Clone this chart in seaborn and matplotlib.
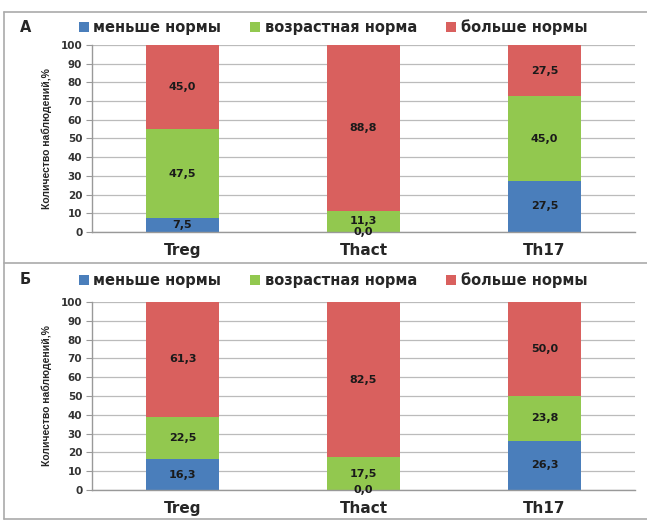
import matplotlib
matplotlib.use("Agg")
import matplotlib.pyplot as plt
from matplotlib.patches import Patch
from matplotlib.lines import Line2D
import pandas as pd
import seaborn as sns

sns.set_style("white")
plt.rcParams["font.family"] = ["DejaVu Sans"]

# Data
cells = ["Treg", "Thact", "Th17"]
groups = ["меньше нормы", "возрастная норма", "больше нормы"]
panel_a_below = [7.5, 0.0, 27.5]
panel_a_norm = [47.5, 11.3, 45.0]
panel_a_above = [45.0, 88.8, 27.5]
panel_b_below = [16.3, 0.0, 26.3]
panel_b_norm = [22.5, 17.5, 23.8]
panel_b_above = [61.3, 82.5, 50.0]
panel_letters = ["А", "Б"]
y_label = "Количество наблюдений,%"
y_ticks = list(range(0, 101, 10))

colors = ["#4A7EBB", "#92C84F", "#D9605E"]

W, H = 647, 521
fig = plt.figure(figsize=(W / 100, H / 100), dpi=100)


def px_axes(left, top, right, bottom):
    return fig.add_axes([left / W, 1 - bottom / H, (right - left) / W, (bottom - top) / H])


def draw_panel(ax, below, norm, above):
    df = pd.DataFrame({"cell": cells, "below": below, "norm": norm, "above": above})
    df["c1"] = df["below"]
    df["c2"] = df["below"] + df["norm"]
    df["c3"] = df["c2"] + df["above"]
    # stacked bars: draw cumulative heights from the top segment down
    for col, color in zip(["c3", "c2", "c1"], colors[::-1]):
        sns.barplot(data=df, x="cell", y=col, color=color, width=0.4,
                    saturation=1, ax=ax, zorder=2, edgecolor="none")
    ax.set_ylim(0, 100)
    ax.set_xlim(-0.5, 2.5)
    ax.set_yticks(y_ticks)
    ax.set_yticklabels([str(t) for t in y_ticks], fontsize=7.5, fontweight="bold", color="#333333")
    ax.set_xticks(range(len(cells)))
    ax.set_xticklabels(cells, fontsize=11, fontweight="bold")
    ax.set_xticks([-0.5, 0.5, 1.5, 2.5], minor=True)
    ax.tick_params(axis="x", which="major", length=0, pad=8)
    ax.tick_params(axis="x", which="minor", length=4, color="#999999", direction="out")
    ax.tick_params(axis="y", length=4, color="#999999", direction="out", pad=3, left=True)
    ax.grid(axis="y", color="#BBBBBB", linewidth=0.9, zorder=0)
    ax.set_axisbelow(True)
    for s in ["top", "right"]:
        ax.spines[s].set_visible(False)
    for s in ["left", "bottom"]:
        ax.spines[s].set_color("#999999")
        ax.spines[s].set_linewidth(1.0)
    ax.set_xlabel("")
    ax.set_ylabel(y_label, fontsize=7.5, fontweight="bold",
                  family=["Liberation Sans", "DejaVu Sans"], labelpad=6)
    # segment value labels
    for i in range(len(cells)):
        base = 0.0
        for val in (below[i], norm[i], above[i]):
            ax.text(i, base + val / 2, f"{val:.1f}".replace(".", ","),
                    ha="center", va="center", fontsize=8, fontweight="bold",
                    color="#1a1a1a", zorder=5, clip_on=False)
            base += val


ax_a = px_axes(92, 45, 635, 232)
draw_panel(ax_a, panel_a_below, panel_a_norm, panel_a_above)
ax_b = px_axes(92, 302, 635, 490)
draw_panel(ax_b, panel_b_below, panel_b_norm, panel_b_above)

# legends and panel letters
handles = [Patch(facecolor=c, edgecolor="none") for c in colors]
for letter, y in zip(panel_letters, [27, 280]):
    fig.text(20 / W, 1 - y / H, letter, fontsize=10.5, fontweight="bold", va="center", ha="left")
    fig.legend(handles, groups, loc="center", bbox_to_anchor=(333 / W, 1 - y / H),
               ncol=3, frameon=False, prop={"weight": "bold", "size": 10.5},
               handlelength=0.7, handleheight=0.7, handletextpad=0.3, columnspacing=2.0,
               borderpad=0, borderaxespad=0)

# panel frames
frame = dict(color="#AAAAAA", linewidth=1.2, transform=fig.transFigure)
for x0, x1, y0, y1 in [(4, 4, 12, 519), (4, 647, 12, 12), (4, 647, 263, 263),
                       (4, 647, 519, 519)]:
    fig.add_artist(Line2D([x0 / W, x1 / W], [1 - y0 / H, 1 - y1 / H], **frame))

fig.savefig("out.png", dpi=100)
